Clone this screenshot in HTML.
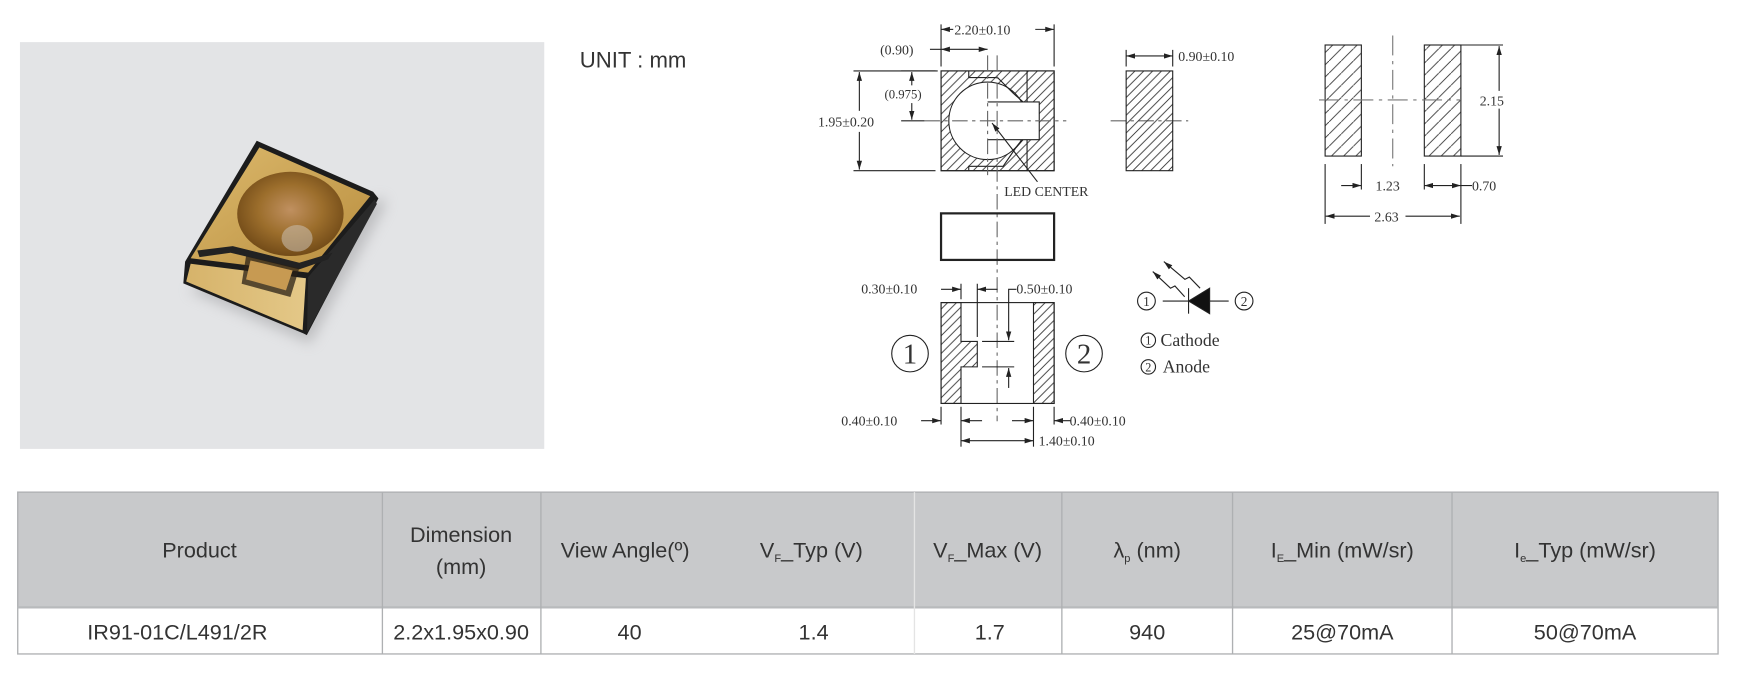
<!DOCTYPE html>
<html><head><meta charset="utf-8"><style>
html,body{margin:0;padding:0;background:#fff;width:1738px;height:681px;overflow:hidden}
svg{display:block}
.s{font-family:"Liberation Serif",serif;fill:#333}
.t{font-family:"Liberation Sans",sans-serif;fill:#333}
</style></head><body>
<svg width="1738" height="681" viewBox="0 0 1568 614.4" preserveAspectRatio="none" xmlns="http://www.w3.org/2000/svg">
<defs>
<pattern id="h" patternUnits="userSpaceOnUse" width="8" height="8"><path d="M-1,9 L9,-1 M-1,1 L1,-1 M7,9 L9,7" stroke="#333" stroke-width="0.8"/></pattern>
<pattern id="h2" patternUnits="userSpaceOnUse" width="11" height="11"><path d="M-1,12 L12,-1" stroke="#333" stroke-width="0.8"/></pattern>
<marker id="a" viewBox="0 0 10 6" refX="10" refY="3" markerWidth="8" markerHeight="5" orient="auto-start-reverse" markerUnits="userSpaceOnUse"><path d="M0,0 L10,3 L0,6Z" fill="#222"/></marker>
<radialGradient id="cup" cx="0.5" cy="0.45" r="0.6"><stop offset="0" stop-color="#c09060"/><stop offset="0.5" stop-color="#9c6e2c"/><stop offset="1" stop-color="#6a4414"/></radialGradient>
<linearGradient id="gt" x1="0" y1="0" x2="1" y2="1"><stop offset="0" stop-color="#dcb96c"/><stop offset="1" stop-color="#b88d3e"/></linearGradient>
<linearGradient id="gf" x1="0" y1="0" x2="1" y2="0"><stop offset="0" stop-color="#d6b36a"/><stop offset="1" stop-color="#e4c888"/></linearGradient>
<filter id="bl"><feGaussianBlur stdDeviation="6"/></filter>
</defs>

<rect x="18" y="38" width="473" height="367" fill="#e3e4e6"/>
<path d="M170,262 L280,310 L348,185 L345,178 Z" fill="#9a9a9c" opacity="0.5" filter="url(#bl)"/>
<path d="M231.6,127 L336.6,173 L341.4,179 L276.8,302.3 L273.7,300.8 L165.4,255.7 L167,236 Z" fill="#1c1c1c"/>
<path d="M234,133 L334,177 L278,246 L172,233 Z" fill="url(#gt)"/>
<path d="M172,238 L276,251 L273,298 L168,254 Z" fill="url(#gf)"/>
<path d="M278,250 L338,180 L340,184 L277,300 Z" fill="#2a2a2a"/>
<ellipse cx="262" cy="193" rx="48" ry="38" fill="url(#cup)"/>
<ellipse cx="268" cy="215" rx="14" ry="12" fill="#c6b9a8" opacity="0.6"/>
<path d="M178,226 L210,222 L270,237 L300,228 L296,234 L270,243 L208,228 L180,232Z" fill="#222"/>
<path d="M222,231 L270,242 L262,268 L218,256 Z" fill="#2a2016" opacity="0.75"/>
<path d="M226,235 L264,244 L258,262 L222,252 Z" fill="#c79a52"/>

<text x="523" y="61" class="t" font-size="20">UNIT : mm</text>

<g stroke="#222" stroke-width="1" fill="none">
<rect x="849" y="64" width="102" height="90" fill="url(#h)"/>
<circle cx="891" cy="109" r="35" fill="#fff"/>
<rect x="888" y="92" width="49.6" height="34" fill="#fff" stroke="none"/>
<path d="M891,92 L937.6,92 L937.6,126 L891,126" />
<path d="M874,64 L874,70 L900,70 L914,84 L923,92 M923,126 L916,134 L905,150 L874,150 L874,154"/>
<line x1="926.6" y1="64" x2="926.6" y2="92"/><line x1="926.6" y1="126" x2="926.6" y2="154"/>
<rect x="849" y="64" width="102" height="90"/>
<g stroke="#666" stroke-dasharray="14,4,3,4"><line x1="834" y1="109" x2="962" y2="109"/><line x1="891" y1="50" x2="891" y2="158"/><line x1="899.6" y1="50" x2="899.6" y2="380"/><line x1="1002" y1="109" x2="1072" y2="109"/></g>
<line x1="849" y1="22" x2="849" y2="60"/><line x1="951" y1="22" x2="951" y2="60"/>
<line x1="860" y1="26.5" x2="849" y2="26.5" marker-end="url(#a)"/><line x1="934" y1="26.5" x2="951" y2="26.5" marker-end="url(#a)"/>
<line x1="839" y1="44.5" x2="849" y2="44.5"/><line x1="849" y1="44.5" x2="891" y2="44.5" marker-start="url(#a)" marker-end="url(#a)"/>
<line x1="813" y1="64" x2="846" y2="64"/><line x1="813" y1="109" x2="834" y2="109"/>
<line x1="822.6" y1="65" x2="822.6" y2="77" marker-start="url(#a)"/><line x1="822.6" y1="93" x2="822.6" y2="108" marker-end="url(#a)"/>
<line x1="770" y1="64" x2="844" y2="64"/><line x1="770" y1="154" x2="844" y2="154"/>
<line x1="775.3" y1="65" x2="775.3" y2="100" marker-start="url(#a)"/><line x1="775.3" y1="119" x2="775.3" y2="153" marker-end="url(#a)"/>
<line x1="936" y1="164" x2="895" y2="111" marker-end="url(#a)"/>
<rect x="1016" y="64" width="42" height="90" fill="url(#h)"/>
<line x1="1016" y1="45" x2="1016" y2="60"/><line x1="1058" y1="45" x2="1058" y2="60"/>
<line x1="1016" y1="50.5" x2="1058" y2="50.5" marker-start="url(#a)" marker-end="url(#a)"/>
<rect x="1195.5" y="40.6" width="32.7" height="100.2" fill="url(#h2)"/>
<rect x="1285" y="40.6" width="33" height="100.2" fill="url(#h2)"/>
<g stroke="#777" stroke-dasharray="18,5,3,5"><line x1="1256.5" y1="32" x2="1256.5" y2="150"/><line x1="1190" y1="90.2" x2="1318" y2="90.2"/></g>
<line x1="1318" y1="40.6" x2="1356" y2="40.6"/><line x1="1318" y1="140.8" x2="1356" y2="140.8"/>
<line x1="1352.5" y1="41.6" x2="1352.5" y2="82" marker-start="url(#a)"/><line x1="1352.5" y1="98" x2="1352.5" y2="139.8" marker-end="url(#a)"/>
<line x1="1195.5" y1="148" x2="1195.5" y2="202"/><line x1="1228.2" y1="148" x2="1228.2" y2="171"/><line x1="1285" y1="148" x2="1285" y2="171"/><line x1="1318" y1="148" x2="1318" y2="202"/>
<line x1="1210" y1="167.4" x2="1228.2" y2="167.4" marker-end="url(#a)"/>
<line x1="1285" y1="167.4" x2="1318" y2="167.4" marker-start="url(#a)" marker-end="url(#a)"/><line x1="1318" y1="167.4" x2="1328" y2="167.4"/>
<line x1="1196" y1="195" x2="1236" y2="195" marker-start="url(#a)"/><line x1="1268" y1="195" x2="1317" y2="195" marker-end="url(#a)"/>
<rect x="849" y="192.5" width="102" height="42" stroke-width="2"/>
<path d="M849,273 L867,273 L867,308 L881.7,308 L881.7,331 L867,331 L867,364 L849,364Z" fill="url(#h)"/>
<rect x="932.4" y="273" width="18.6" height="91" fill="url(#h)"/>
<rect x="849" y="273" width="102" height="91"/>
<line x1="849" y1="261" x2="867" y2="261" marker-end="url(#a)"/>
<line x1="867" y1="256" x2="867" y2="270"/><line x1="881.7" y1="256" x2="881.7" y2="304"/>
<line x1="900" y1="261" x2="881.7" y2="261" marker-end="url(#a)"/>
<path d="M917,261 L910,261 L910,307" marker-end="url(#a)"/>
<line x1="886" y1="308" x2="915" y2="308"/><line x1="886" y1="331" x2="915" y2="331"/>
<line x1="910" y1="350" x2="910" y2="332" marker-end="url(#a)"/>
<line x1="849" y1="367" x2="849" y2="383"/><line x1="867" y1="367" x2="867" y2="403"/><line x1="932.4" y1="367" x2="932.4" y2="403"/><line x1="951" y1="367" x2="951" y2="383"/>
<line x1="831" y1="379.5" x2="849" y2="379.5" marker-end="url(#a)"/>
<line x1="886" y1="379.5" x2="867" y2="379.5" marker-end="url(#a)"/>
<line x1="913" y1="379.5" x2="932.4" y2="379.5" marker-end="url(#a)"/>
<line x1="966" y1="379.5" x2="951" y2="379.5" marker-end="url(#a)"/>
<line x1="867" y1="397.6" x2="932.4" y2="397.6" marker-start="url(#a)" marker-end="url(#a)"/>
<circle cx="821" cy="319" r="16.5"/><circle cx="978" cy="319" r="16.5"/>
<circle cx="1034.3" cy="271.6" r="8"/><circle cx="1122.4" cy="271.6" r="8"/>
<line x1="1049" y1="271.6" x2="1091" y2="271.6"/><line x1="1091" y1="271.6" x2="1108.5" y2="271.6"/>
<path d="M1072.3,271.6 L1091.3,260 L1091.3,283Z" fill="#111"/>
<line x1="1072.3" y1="260" x2="1072.3" y2="283"/>
<path d="M1068.8,267.7 L1060,258 L1056,260 L1040,245" marker-end="url(#a)"/>
<path d="M1082.7,260 L1073,250 L1069,252 L1050,236" marker-end="url(#a)"/>
<circle cx="1036" cy="307" r="6.5"/><circle cx="1036" cy="331" r="6.5"/>
</g>

<g class="s" font-size="12.5">
<text x="861" y="31">2.20±0.10</text>
<text x="794" y="49">(0.90)</text>
<text x="798" y="89" font-size="11.5">(0.975)</text>
<text x="738" y="114">1.95±0.20</text>
<text x="906" y="177">LED CENTER</text>
<text x="1063" y="55">0.90±0.10</text>
<text x="1335" y="95">2.15</text>
<text x="1241" y="172">1.23</text>
<text x="1328" y="172">0.70</text>
<text x="1240" y="200">2.63</text>
<text x="777" y="265">0.30±0.10</text>
<text x="917" y="265">0.50±0.10</text>
<text x="759" y="384">0.40±0.10</text>
<text x="965" y="384">0.40±0.10</text>
<text x="937" y="402">1.40±0.10</text>
<text x="821" y="328" font-size="26" text-anchor="middle">1</text>
<text x="978" y="328" font-size="26" text-anchor="middle">2</text>
<text x="1034.3" y="276" font-size="12" text-anchor="middle">1</text>
<text x="1122.4" y="276" font-size="12" text-anchor="middle">2</text>
<text x="1036" y="311" font-size="11" text-anchor="middle">1</text>
<text x="1036" y="335" font-size="11" text-anchor="middle">2</text>
<text x="1047" y="312" font-size="16">Cathode</text>
<text x="1049" y="336" font-size="16">Anode</text>
</g>

<rect x="16" y="444" width="1534" height="104" fill="#c8c9cb"/>
<g stroke="#aeb0b2" stroke-width="1.2" fill="none">
<rect x="16" y="444" width="1534" height="146"/>
<line x1="16" y1="548" x2="1550" y2="548" stroke-width="2" stroke="#b8babc"/>
<line x1="345" y1="444" x2="345" y2="590"/><line x1="488" y1="444" x2="488" y2="590"/><line x1="825" y1="444" x2="825" y2="590" stroke="#e4e4e4"/><line x1="958" y1="444" x2="958" y2="590"/><line x1="1112" y1="444" x2="1112" y2="590"/><line x1="1310" y1="444" x2="1310" y2="590"/>
</g>
<g class="t" font-size="19.5" text-anchor="middle">
<text x="180" y="503">Product</text>
<text x="416" y="489">Dimension</text>
<text x="416" y="518">(mm)</text>
<text x="564" y="503">View Angle(º)</text>
<text x="732" y="503">V<tspan font-size="10" dy="4">F</tspan><tspan dy="-4">_Typ (V)</tspan></text>
<text x="891" y="503">V<tspan font-size="10" dy="4">F</tspan><tspan dy="-4">_Max (V)</tspan></text>
<text x="1035" y="503">λ<tspan font-size="10" dy="4">p</tspan><tspan dy="-4"> (nm)</tspan></text>
<text x="1211" y="503">I<tspan font-size="10" dy="4">E</tspan><tspan dy="-4">_Min (mW/sr)</tspan></text>
<text x="1430" y="503">I<tspan font-size="10" dy="4">e</tspan><tspan dy="-4">_Typ (mW/sr)</tspan></text>
<text x="160" y="577">IR91-01C/L491/2R</text>
<text x="416" y="577">2.2x1.95x0.90</text>
<text x="568" y="577">40</text>
<text x="734" y="577">1.4</text>
<text x="893" y="577">1.7</text>
<text x="1035" y="577">940</text>
<text x="1211" y="577">25@70mA</text>
<text x="1430" y="577">50@70mA</text>
</g>
</svg>
</body></html>
